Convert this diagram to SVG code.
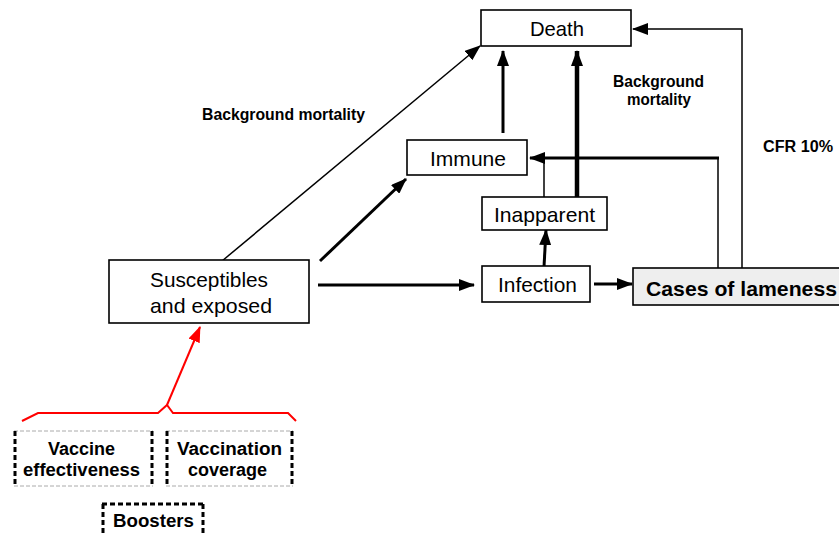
<svg xmlns="http://www.w3.org/2000/svg" width="839" height="535" viewBox="0 0 839 535">
<style>
.box{fill:#fff;stroke:#000;stroke-width:1.6}
.t{font-family:"Liberation Sans",Arial,sans-serif;font-size:21px;fill:#000}
.b{font-family:"Liberation Sans",Arial,sans-serif;font-weight:bold;font-size:16px;fill:#000}
.b2{font-family:"Liberation Sans",Arial,sans-serif;font-weight:bold;font-size:18px;fill:#000}
.thin{stroke:#000;stroke-width:1.5;fill:none}
.thick{stroke:#000;stroke-width:3;fill:none}
.dg{stroke:#aaa;stroke-width:1;stroke-dasharray:4 2}
.dk{stroke:#000;stroke-width:3;stroke-dasharray:5 3}
</style>
<defs>
<marker id="ah" markerUnits="userSpaceOnUse" markerWidth="16" markerHeight="12" refX="15" refY="6" orient="auto">
<path d="M0,0 L16,6 L0,12 z" fill="#000"/>
</marker>
<marker id="ahr" markerUnits="userSpaceOnUse" markerWidth="16" markerHeight="12" refX="15" refY="6" orient="auto">
<path d="M0,0 L16,6 L0,12 z" fill="#f00"/>
</marker>
</defs>

<g id="connectors">
<line class="thin" x1="222" y1="261" x2="480" y2="46" marker-end="url(#ah)"/>
<line class="thick" x1="320" y1="261" x2="406" y2="179" marker-end="url(#ah)"/>
<line class="thick" x1="318" y1="285" x2="474" y2="285" marker-end="url(#ah)"/>
<line class="thick" x1="503" y1="133" x2="503" y2="51" marker-end="url(#ah)"/>
<line stroke="#000" stroke-width="4.5" x1="577" y1="197" x2="577" y2="51" marker-end="url(#ah)"/>
<line class="thin" x1="544" y1="197" x2="544" y2="158"/>
<line class="thin" x1="718" y1="268" x2="718" y2="158"/>
<line class="thick" x1="719" y1="158" x2="530" y2="158" marker-end="url(#ah)"/>
<polyline class="thin" points="742,268 742,29 633,29" marker-end="url(#ah)"/>
<line class="thick" x1="544" y1="267" x2="546" y2="230" marker-end="url(#ah)"/>
<line class="thick" x1="594" y1="284" x2="632" y2="284" marker-end="url(#ah)"/>
<polyline points="22,421 38,413 158,413 167,405 173,413 288,413 296,421" fill="none" stroke="#f00" stroke-width="2"/>
<line x1="167" y1="405" x2="200" y2="327" stroke="#f00" stroke-width="2" marker-end="url(#ahr)"/>
</g>

<g id="death">
<rect class="box" x="481" y="10" width="150" height="36"/>
<text class="t" x="530" y="36" textLength="54" lengthAdjust="spacingAndGlyphs">Death</text>
</g>
<g id="immune">
<rect class="box" x="407" y="140" width="120" height="35"/>
<text class="t" x="430" y="166" textLength="76" lengthAdjust="spacingAndGlyphs">Immune</text>
</g>
<g id="inapparent">
<rect class="box" x="482" y="197" width="125" height="33"/>
<text class="t" x="494" y="222" textLength="101" lengthAdjust="spacingAndGlyphs">Inapparent</text>
</g>
<g id="infection">
<rect class="box" x="482" y="266" width="108" height="36"/>
<text class="t" x="498" y="292" textLength="79" lengthAdjust="spacingAndGlyphs">Infection</text>
</g>
<g id="cases">
<rect x="633" y="268" width="220" height="37" fill="#eeeeee" stroke="#000" stroke-width="1.6"/>
<text class="b" x="646" y="296" style="font-size:21px" textLength="191" lengthAdjust="spacingAndGlyphs">Cases of lameness</text>
</g>
<g id="susceptibles">
<rect class="box" x="109" y="260" width="200" height="63"/>
<text class="t" x="150" y="287" textLength="118" lengthAdjust="spacingAndGlyphs">Susceptibles</text>
<text class="t" x="150" y="313" textLength="122" lengthAdjust="spacingAndGlyphs">and exposed</text>
</g>

<g id="labels">
<text class="b" x="202" y="120" textLength="163" lengthAdjust="spacingAndGlyphs">Background mortality</text>
<text class="b" x="613" y="87" textLength="91" lengthAdjust="spacingAndGlyphs">Background</text>
<text class="b" x="627" y="105" textLength="64" lengthAdjust="spacingAndGlyphs">mortality</text>
<text class="b" x="763" y="152" textLength="70" lengthAdjust="spacingAndGlyphs">CFR 10%</text>
</g>

<g id="vaccine-effectiveness">
<line class="dg" x1="14" y1="431" x2="153" y2="431"/>
<line class="dg" x1="14" y1="486" x2="153" y2="486"/>
<line class="dk" x1="15" y1="431" x2="15" y2="486"/>
<line class="dk" x1="152" y1="431" x2="152" y2="486"/>
<text class="b2" x="48" y="455" textLength="67" lengthAdjust="spacingAndGlyphs">Vaccine</text>
<text class="b2" x="23" y="476" textLength="117" lengthAdjust="spacingAndGlyphs">effectiveness</text>
</g>
<g id="vaccination-coverage">
<line class="dg" x1="166" y1="431" x2="293" y2="431"/>
<line class="dg" x1="166" y1="486" x2="293" y2="486"/>
<line class="dk" x1="167" y1="431" x2="167" y2="486"/>
<line class="dk" x1="292" y1="431" x2="292" y2="486"/>
<text class="b2" x="177" y="455" textLength="105" lengthAdjust="spacingAndGlyphs">Vaccination</text>
<text class="b2" x="188" y="476" textLength="79" lengthAdjust="spacingAndGlyphs">coverage</text>
</g>
<g id="boosters">
<line class="dk" x1="102" y1="504" x2="204" y2="504"/>
<line class="dk" x1="103" y1="504" x2="103" y2="535"/>
<line class="dk" x1="203" y1="504" x2="203" y2="535"/>
<text class="b2" x="113" y="527" textLength="81" lengthAdjust="spacingAndGlyphs">Boosters</text>
</g>
</svg>
